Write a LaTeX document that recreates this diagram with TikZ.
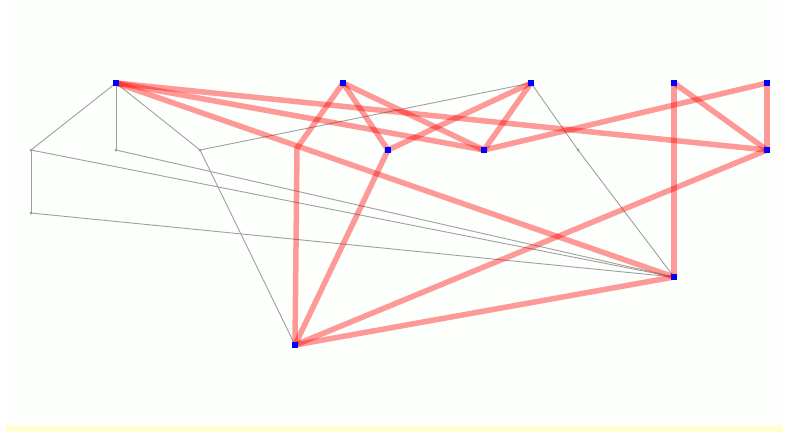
\documentclass[tikz,border=0pt]{standalone}
\begin{document}
\begin{tikzpicture}[x=1pt,y=-1pt,
  bluept/.style={fill=blue,draw=none,inner sep=0pt,minimum size=5.5pt,rectangle},
  graypt/.style={fill=gray!80,draw=none,inner sep=0pt,minimum size=3pt,circle},
  grayedge/.style={draw=gray!75,line width=0.9pt},
  rededge/.style={draw=red,opacity=0.4,line width=5.5pt,line join=round,line cap=round}]
\useasboundingbox (0,0) rectangle (786,432);
\fill[white] (0,0) rectangle (786,432);
\fill[black!2!green!1!white] (6,0) rectangle (783,432);
\fill[yellow!18] (6,425) rectangle (783,432);
% node positions
\coordinate (pA) at (116,83);
\coordinate (pB) at (343,83);
\coordinate (pC) at (531,83);
\coordinate (pD) at (674,83);
\coordinate (pE) at (767,83);
\coordinate (pF) at (388,150);
\coordinate (pG) at (484,150);
\coordinate (pH) at (767,150);
\coordinate (pI) at (674,277);
\coordinate (pJ) at (295,345);
\coordinate (K) at (297,148);
\coordinate (g1) at (31,150);
\coordinate (g2) at (31,213);
\coordinate (g3) at (116,150);
\coordinate (g4) at (200,150);
\coordinate (g5) at (578,150);
% gray edges
\draw[grayedge] (pA) -- (g1);
\draw[grayedge] (pA) -- (g3);
\draw[grayedge] (pA) -- (g4);
\draw[grayedge] (g1) -- (g2);
\draw[grayedge] (g4) -- (pC);
\draw[grayedge] (g4) -- (pJ);
\draw[grayedge] (g1) -- (pI);
\draw[grayedge] (g3) -- (pI);
\draw[grayedge] (g2) -- (pI);
\draw[grayedge] (pC) -- (g5) -- (pI);
% red edges
\draw[rededge] (pA) -- (pG);
\draw[rededge] (pA) -- (pH);
\draw[rededge] (pA) -- (pI);
\draw[rededge] (pB) -- (K) -- (pJ);
\draw[rededge] (pB) -- (pF);
\draw[rededge] (pB) -- (pG);
\draw[rededge] (pC) -- (pF);
\draw[rededge] (pC) -- (pG);
\draw[rededge] (pF) -- (pJ);
\draw[rededge] (pG) -- (pE);
\draw[rededge] (pD) -- (pH);
\draw[rededge] (pE) -- (pH);
\draw[rededge] (pD) -- (pI);
\draw[rededge] (pH) -- (pJ);
\draw[rededge] (pI) -- (pJ);
% nodes
\foreach \n in {g1,g2,g3,g4,g5} \node[graypt] (n\n) at (\n) {};
\foreach \n in {A,B,C,D,E,F,G,H,I,J} \node[bluept] (\n) at (p\n) {};
\end{tikzpicture}
\end{document}
